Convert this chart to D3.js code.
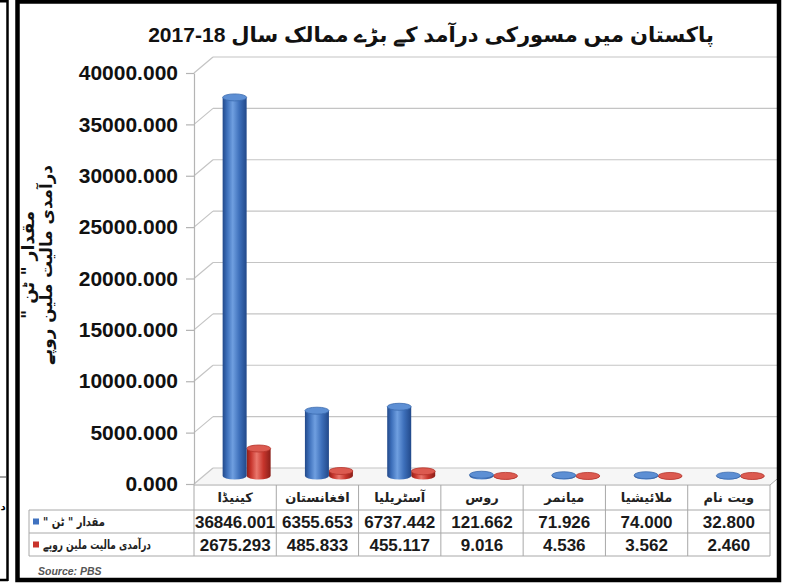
<!DOCTYPE html>
<html><head><meta charset="utf-8">
<script src="https://cdn.jsdelivr.net/npm/d3@7"></script>
<style>
html,body{margin:0;padding:0;background:#fff;}
svg{display:block;}
</style></head>
<body>
<svg id="chart" width="788" height="584"></svg>
<script>
// ---------- data ----------
const categories = ["کینیڈا", "افغانستان", "آسٹریلیا", "روس", "میانمر", "ملائیشیا", "ویت نام"];
const quantityTons = [36846.001, 6355.653, 6737.442, 121.662, 71.926, 74.000, 32.800];
const valueMillionRs = [2675.293, 485.833, 455.117, 9.016, 4.536, 3.562, 2.460];
const seriesNames = ["مقدار \" ٹن \"", "درآمدی مالیت ملین روپے"];
const yTicks = [0, 5000, 10000, 15000, 20000, 25000, 30000, 35000, 40000];
const titleText = "پاکستان میں مسورکی درآمد کے بڑے ممالک سال 18-2017";
const yTitleLines = ["مقدار \" ٹن \"", "درآمدی مالیت ملین روپے"];
const sourceText = "Source: PBS";

// ---------- layout ----------
const svg = d3.select("#chart");
const axisX = 194, depthX = 19, depthY = 16;
const plotRight = 770;
const urdu = "'DejaVu Sans', 'Noto Sans', sans-serif";
const num = "'Liberation Sans', Arial, sans-serif";

const y = d3.scaleLinear().domain([0, 40000]).range([484, 73]);
const x = d3.scaleBand().domain(categories).range([axisX, plotRight]).paddingInner(0).paddingOuter(0);

function fit(sel, target, lo, hi) {
  const w = sel.node().getComputedTextLength();
  const fs = +sel.attr("font-size");
  sel.attr("font-size", Math.min(hi, Math.max(lo, fs * target / w)));
}

// defs: gradients
const defs = svg.append("defs");
function cylGrad(id, dark, mid, hi) {
  const g = defs.append("linearGradient").attr("id", id).attr("x1", "0%").attr("x2", "100%").attr("y1", "0%").attr("y2", "0%");
  [[0, dark], [0.18, mid], [0.42, hi], [0.7, mid], [1, dark]].forEach(([o, c]) =>
    g.append("stop").attr("offset", o).attr("stop-color", c));
}
cylGrad("gBlue", "#22498a", "#3d6fba", "#6f9fe0");
cylGrad("gRed", "#8a1f19", "#c7352c", "#ea776d");
defs.append("clipPath").attr("id", "frameClip").append("rect").attr("x", 20).attr("y", 3).attr("width", 757).attr("height", 575);

// left neighbouring panel remnant
svg.append("line").attr("x1", 7.5).attr("x2", 7.5).attr("y1", 0).attr("y2", 581).attr("stroke", "#000").attr("stroke-width", 2.5);
svg.append("line").attr("x1", 0).attr("x2", 8).attr("y1", 1).attr("y2", 1).attr("stroke", "#000").attr("stroke-width", 3);
svg.append("line").attr("x1", 0).attr("x2", 8).attr("y1", 580).attr("y2", 580).attr("stroke", "#000").attr("stroke-width", 2.5);
svg.append("line").attr("x1", 0).attr("x2", 6).attr("y1", 477).attr("y2", 477).attr("stroke", "#444").attr("stroke-width", 1);
svg.append("text").attr("x", 0.5).attr("y", 510).attr("text-anchor", "start").attr("font-family", urdu).attr("font-weight", "bold").attr("font-size", 10).text("د");

const plot = svg.append("g").attr("clip-path", "url(#frameClip)");

// floor
plot.append("polygon")
  .attr("points", [[axisX, y(0)], [plotRight, y(0)], [plotRight + depthX, y(0) - depthY], [axisX + depthX, y(0) - depthY]].map(p => p.join(",")).join(" "))
  .attr("fill", "#f6f6f6");

// back-wall gridlines + side-wall diagonals
const grid = plot.append("g").attr("stroke", "#c4c4c4").attr("stroke-width", 1.2).attr("fill", "none");
yTicks.forEach(t => {
  grid.append("line").attr("x1", axisX + depthX).attr("x2", 790).attr("y1", y(t) - depthY).attr("y2", y(t) - depthY);
  grid.append("line").attr("x1", axisX).attr("x2", axisX + depthX).attr("y1", y(t)).attr("y2", y(t) - depthY);
});

// y axis
const yAxis = d3.axisLeft(y).tickValues(yTicks).tickFormat(d3.format(".3f")).tickSize(8).tickSizeOuter(0).tickPadding(8);
const ag = svg.append("g").attr("transform", `translate(${axisX},0)`).call(yAxis);
ag.select(".domain").attr("stroke", "#b4b4b4").attr("stroke-width", 1.2);
ag.selectAll(".tick line").attr("stroke", "#b4b4b4").attr("stroke-width", 1.2);
ag.selectAll(".tick text").attr("font-family", num).attr("font-weight", "bold").attr("font-size", 21).attr("fill", "#111");

// cylinders
const barW = 24, ry = 3.5;
const baseY = y(0) - depthY / 2;
const hScale = v => y(0) - y(v);
function cylinder(g, cx, v, grad, topFill, topStroke) {
  const r = barW / 2, top = baseY - hScale(v);
  g.append("path")
    .attr("d", `M${cx - r},${top} L${cx - r},${baseY} A${r},${ry} 0 0 0 ${cx + r},${baseY} L${cx + r},${top} Z`)
    .attr("fill", `url(#${grad})`);
  g.append("ellipse").attr("cx", cx).attr("cy", top).attr("rx", r).attr("ry", ry)
    .attr("fill", topFill).attr("stroke", topStroke).attr("stroke-width", 0.8);
}
const bars = plot.append("g");
categories.forEach((c, i) => {
  const cx = x(c) + x.bandwidth() / 2 - 0.5;
  cylinder(bars, cx + barW, valueMillionRs[i], "gRed", "#dc5a50", "#b5342b");
  cylinder(bars, cx, quantityTons[i], "gBlue", "#5d8fd4", "#3a69ad");
});

// data table
const tbl = svg.append("g").attr("stroke", "#a8a8a8").attr("stroke-width", 1).attr("fill", "none");
const rowTop = [485, 510, 533, 556];
const tblLeft = 29;
tbl.append("line").attr("x1", axisX).attr("x2", plotRight).attr("y1", rowTop[0]).attr("y2", rowTop[0]);
tbl.append("line").attr("x1", plotRight).attr("x2", plotRight + 10).attr("y1", rowTop[0]).attr("y2", rowTop[0] - 8.5);
[1, 2, 3].forEach(k => tbl.append("line").attr("x1", tblLeft).attr("x2", plotRight).attr("y1", rowTop[k]).attr("y2", rowTop[k]));
tbl.append("line").attr("x1", tblLeft).attr("x2", tblLeft).attr("y1", rowTop[1]).attr("y2", rowTop[3]);
categories.forEach(c => tbl.append("line").attr("x1", x(c)).attr("x2", x(c)).attr("y1", rowTop[0]).attr("y2", rowTop[3]));
tbl.append("line").attr("x1", plotRight).attr("x2", plotRight).attr("y1", rowTop[0]).attr("y2", rowTop[3]);

const tt = svg.append("g");
categories.forEach((c, i) => {
  const cx = x(c) + x.bandwidth() / 2;
  tt.append("text").attr("x", cx).attr("y", (rowTop[0] + rowTop[1]) / 2 + 4).attr("text-anchor", "middle")
    .attr("direction", "rtl").attr("font-family", urdu).attr("font-weight", "bold").attr("font-size", 13).attr("fill", "#222").text(c);
  tt.append("text").attr("x", cx).attr("y", (rowTop[1] + rowTop[2]) / 2 + 6).attr("text-anchor", "middle")
    .attr("font-family", num).attr("font-weight", "bold").attr("font-size", 17).attr("fill", "#1a1a1a").text(d3.format(".3f")(quantityTons[i]));
  tt.append("text").attr("x", cx).attr("y", (rowTop[2] + rowTop[3]) / 2 + 6).attr("text-anchor", "middle")
    .attr("font-family", num).attr("font-weight", "bold").attr("font-size", 17).attr("fill", "#1a1a1a").text(d3.format(".3f")(valueMillionRs[i]));
});
// legend keys in table
const legColors = ["#3f72c0", "#c9342c"];
const legTargets = [62, 108];
seriesNames.forEach((s, k) => {
  const cy = (rowTop[k + 1] + rowTop[k + 2]) / 2;
  tt.append("rect").attr("x", 33).attr("y", cy - 3).attr("width", 6).attr("height", 6).attr("fill", legColors[k]);
  tt.append("text").attr("x", 43).attr("y", cy + 4).attr("text-anchor", "end").attr("direction", "rtl")
    .attr("font-family", urdu).attr("font-weight", "bold").attr("font-size", 12.5).attr("fill", "#222")
    .attr("textLength", legTargets[k]).attr("lengthAdjust", "spacingAndGlyphs").text(s);
});

// y-axis title
const yt = svg.append("g").attr("transform", "translate(0,265) rotate(-90)");
const ytTargets = [108, 200];
yTitleLines.forEach((l, k) => {
  const t = yt.append("text").attr("x", 0).attr("y", 34 + k * 18).attr("text-anchor", "middle").attr("direction", "rtl")
    .attr("font-family", urdu).attr("font-weight", "bold").attr("font-size", 15).attr("fill", "#111").text(l);
  fit(t, ytTargets[k], 12, 18);
});

// title
const title = svg.append("text").attr("x", 431).attr("y", 42).attr("text-anchor", "middle").attr("direction", "rtl")
  .attr("font-family", "'Liberation Sans', 'DejaVu Sans', sans-serif").attr("font-weight", "bold").attr("font-size", 22).attr("fill", "#111").text(titleText);
fit(title, 567, 14, 28);

// source
svg.append("text").attr("x", 38).attr("y", 575).attr("font-family", num).attr("font-style", "italic").attr("font-weight", "bold")
  .attr("font-size", 10.5).attr("fill", "#555").text(sourceText);

// main frame
svg.append("rect").attr("x", 17.5).attr("y", 1.5).attr("width", 761.5).attr("height", 578.5)
  .attr("fill", "none").attr("stroke", "#000").attr("stroke-width", 4.5);
</script>
</body></html>
